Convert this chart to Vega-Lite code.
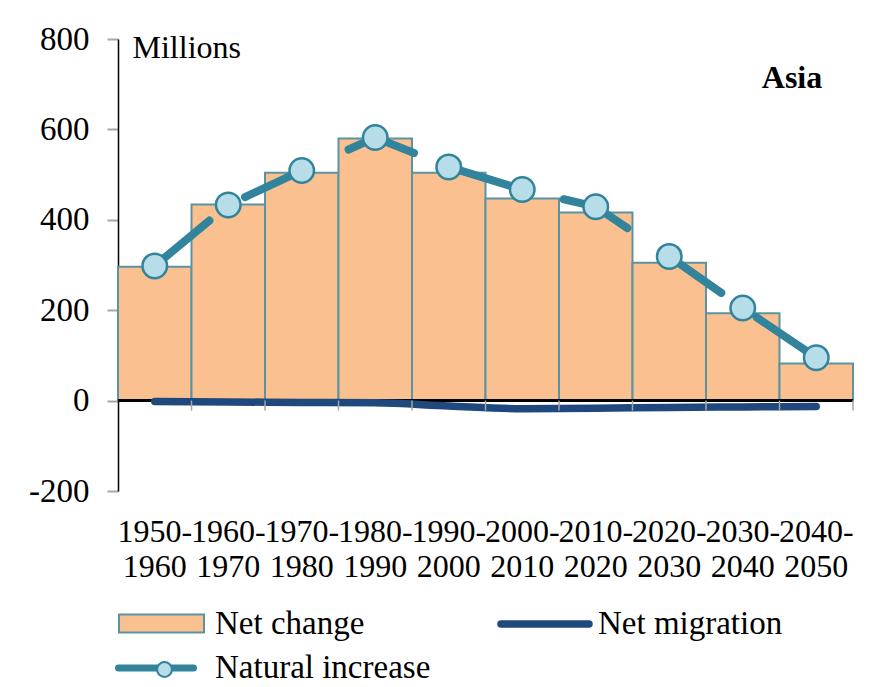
{
  "$schema": "https://vega.github.io/schema/vega-lite/v6.json",
  "width": 735,
  "height": 452,
  "autosize": {"type": "none"},
  "padding": {"left": 118, "top": 39, "right": 37, "bottom": 196},
  "background": "white",
  "config": {
    "view": {"stroke": null},
    "font": "Liberation Serif",
    "axis": {"labelFont": "Liberation Serif", "titleFont": "Liberation Serif", "labelColor": "black", "titleColor": "black", "labelFontSize": 32, "titleFontSize": 32, "titleFontWeight": "normal"},
    "axisY": {
      "title": "Millions", "titleAngle": 0, "titleAlign": "left", "titleBaseline": "alphabetic",
      "titleX": 14, "titleY": 18, "grid": false, "labelFontSize": 33,
      "domainColor": "black", "domainWidth": 1.5,
      "tickColor": "#A6A6A6", "tickWidth": 2, "tickSize": 11, "labelPadding": 18
    },
    "legend": {"labelFont": "Liberation Serif", "labelFontSize": 33, "labelColor": "black", "labelLimit": 400, "padding": 0}
  },
  "data": {
    "values": [
      {"period": "1950-1960", "net": 296, "natural": 298, "migration": -2},
      {"period": "1960-1970", "net": 434, "natural": 433, "migration": -3},
      {"period": "1970-1980", "net": 504, "natural": 509, "migration": -4},
      {"period": "1980-1990", "net": 580, "natural": 582, "migration": -5},
      {"period": "1990-2000", "net": 504, "natural": 517, "migration": -12},
      {"period": "2000-2010", "net": 447, "natural": 467, "migration": -18},
      {"period": "2010-2020", "net": 416, "natural": 429, "migration": -17},
      {"period": "2020-2030", "net": 305, "natural": 319, "migration": -15},
      {"period": "2030-2040", "net": 193, "natural": 205, "migration": -14},
      {"period": "2040-2050", "net": 82, "natural": 95, "migration": -13}
    ]
  },
  "layer": [
    {
      "mark": {"type": "bar", "stroke": "#5B93A3", "strokeWidth": 2},
      "encoding": {
        "x": {
          "field": "period", "type": "ordinal", "sort": null,
          "scale": {"paddingInner": 0, "paddingOuter": 0},
          "axis": {
            "title": null, "domain": false, "ticks": false, "tickSize": 0,
            "labelPadding": 25, "labelLineHeight": 35, "labelAngle": 0,
            "labelExpr": "[slice(datum.label,0,5), slice(datum.label,5)]"
          }
        },
        "y": {
          "field": "net", "type": "quantitative",
          "scale": {"domain": [-200, 800], "nice": false},
          "axis": {
            "title": "Millions", "values": [-200, 0, 200, 400, 600, 800],
            "labelExpr": "'' + datum.value"
          }
        },
        "fill": {
          "datum": "Net change", "type": "nominal",
          "scale": {"domain": ["Net change"], "range": ["#FAC090"]},
          "legend": {
            "orient": "none", "legendX": 0, "legendY": 541, "title": null,
            "symbolType": "M-1,-0.21H1V0.21H-1Z", "symbolSize": 7225,
            "symbolStrokeColor": "#5B93A3", "symbolStrokeWidth": 2, "labelOffset": 10
          }
        }
      }
    },
    {
      "mark": {"type": "rule", "color": "black", "strokeWidth": 2},
      "encoding": {"y": {"datum": 0, "type": "quantitative"}}
    },
    {
      "mark": {"type": "line", "strokeWidth": 7.5, "strokeCap": "round", "interpolate": "monotone"},
      "encoding": {
        "x": {"field": "period", "type": "ordinal", "sort": null},
        "y": {"field": "migration", "type": "quantitative"},
        "stroke": {
          "datum": "Net migration", "type": "nominal",
          "scale": {"domain": ["Net migration"], "range": ["#1F497D"]},
          "legend": {
            "orient": "none", "legendX": 379, "legendY": 537, "title": null,
            "symbolType": "M-1,0H1", "symbolSize": 7744, "symbolStrokeWidth": 7.5, "labelOffset": 5,
            "encode": {"symbols": {"update": {"strokeCap": {"value": "round"}}}}
          }
        }
      }
    },
    {
      "mark": {"type": "rule", "color": "#A6A6A6", "strokeWidth": 1.5},
      "encoding": {
        "x": {"field": "period", "type": "ordinal", "sort": null, "bandPosition": 1},
        "y": {"datum": 0, "type": "quantitative"},
        "y2": {"datum": -22}
      }
    },
    {
      "mark": {"type": "line", "strokeWidth": 8, "strokeCap": "round", "strokeDash": [71, 43]},
      "encoding": {
        "x": {"field": "period", "type": "ordinal", "sort": null},
        "y": {"field": "natural", "type": "quantitative"},
        "stroke": {
          "datum": "Natural increase", "type": "nominal",
          "scale": {"domain": ["Natural increase"], "range": ["#31849B"]},
          "legend": {
            "orient": "none", "legendX": -3, "legendY": 588, "title": null,
            "symbolType": "M-1,0H1", "symbolSize": 5625, "symbolStrokeWidth": 7, "labelOffset": 18,
            "encode": {"symbols": {"update": {"strokeCap": {"value": "round"}, "strokeDash": {"value": [1, 0]}}}}
          }
        }
      }
    },
    {
      "mark": {"type": "point", "shape": "circle", "filled": true, "size": 600, "stroke": "#31849B", "strokeWidth": 2.5, "opacity": 1},
      "encoding": {
        "x": {"field": "period", "type": "ordinal", "sort": null},
        "y": {"field": "natural", "type": "quantitative"},
        "fill": {
          "datum": "Natural increase", "type": "nominal",
          "scale": {"domain": ["Natural increase"], "range": ["#B7DDE8"]},
          "legend": {
            "orient": "none", "legendX": 30, "legendY": 614, "title": null,
            "symbolType": "circle", "symbolSize": 220, "symbolStrokeColor": "#31849B", "symbolStrokeWidth": 2,
            "symbolOpacity": 1, "labelExpr": "''"
          }
        }
      }
    },
    {
      "data": {"values": [{"label": "Asia"}]},
      "mark": {"type": "text", "font": "Liberation Serif", "fontSize": 32, "fontWeight": "bold", "align": "right", "baseline": "alphabetic", "dx": 6, "color": "black"},
      "encoding": {
        "x": {"datum": "2040-2050", "type": "ordinal"},
        "y": {"datum": 692, "type": "quantitative"},
        "text": {"field": "label"}
      }
    }
  ],
  "resolve": {
    "scale": {"fill": "independent", "stroke": "independent"},
    "legend": {"fill": "independent", "stroke": "independent"}
  }
}
